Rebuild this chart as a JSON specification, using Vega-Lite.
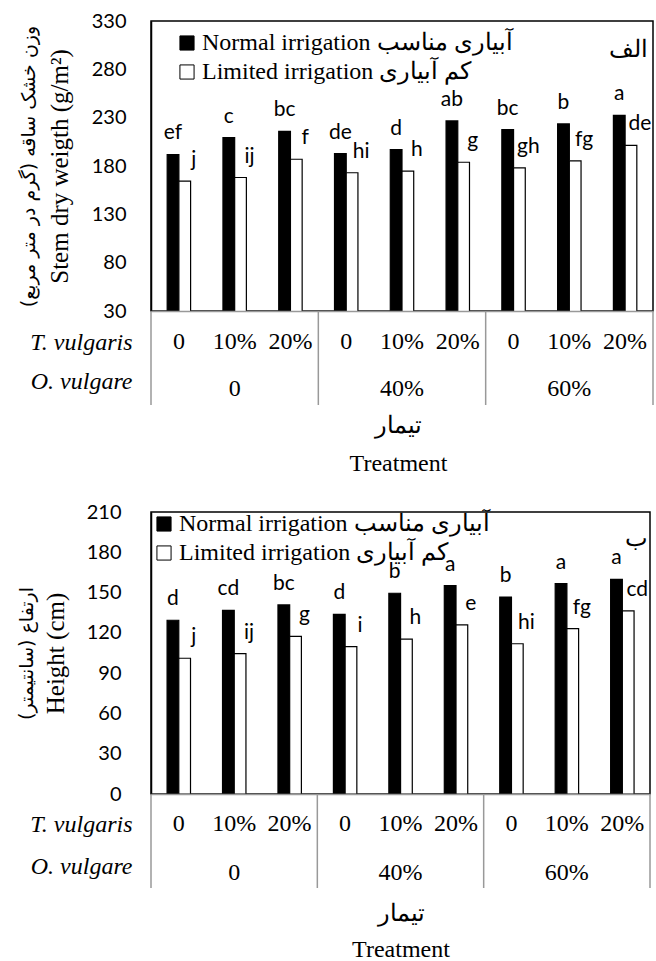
{
  "$schema": "https://vega.github.io/schema/vega-lite/v6.json",
  "padding": {"left": 16, "top": 10, "right": 0, "bottom": 0},
  "background": "white",
  "config": {"view": {"stroke": null}, "axis": {"grid": false}, "font": "Liberation Serif"},
  "datasets": {
    "stem": [
      {"trt": "1", "irr": "Normal irrigation آبیاری مناسب", "g": "N", "v": 191.9, "lab": "ef"},
      {"trt": "1", "irr": "Limited irrigation کم آبیاری", "g": "L", "v": 164.3, "lab": "j"},
      {"trt": "2", "irr": "Normal irrigation آبیاری مناسب", "g": "N", "v": 209.4, "lab": "c"},
      {"trt": "2", "irr": "Limited irrigation کم آبیاری", "g": "L", "v": 168.1, "lab": "ij"},
      {"trt": "3", "irr": "Normal irrigation آبیاری مناسب", "g": "N", "v": 215.9, "lab": "bc"},
      {"trt": "3", "irr": "Limited irrigation کم آبیاری", "g": "L", "v": 187.0, "lab": "f"},
      {"trt": "4", "irr": "Normal irrigation آبیاری مناسب", "g": "N", "v": 192.9, "lab": "de"},
      {"trt": "4", "irr": "Limited irrigation کم آبیاری", "g": "L", "v": 173.0, "lab": "hi"},
      {"trt": "5", "irr": "Normal irrigation آبیاری مناسب", "g": "N", "v": 197.0, "lab": "d"},
      {"trt": "5", "irr": "Limited irrigation کم آبیاری", "g": "L", "v": 174.6, "lab": "h"},
      {"trt": "6", "irr": "Normal irrigation آبیاری مناسب", "g": "N", "v": 226.6, "lab": "ab"},
      {"trt": "6", "irr": "Limited irrigation کم آبیاری", "g": "L", "v": 183.9, "lab": "g"},
      {"trt": "7", "irr": "Normal irrigation آبیاری مناسب", "g": "N", "v": 217.6, "lab": "bc"},
      {"trt": "7", "irr": "Limited irrigation کم آبیاری", "g": "L", "v": 178.1, "lab": "gh"},
      {"trt": "8", "irr": "Normal irrigation آبیاری مناسب", "g": "N", "v": 223.5, "lab": "b"},
      {"trt": "8", "irr": "Limited irrigation کم آبیاری", "g": "L", "v": 185.4, "lab": "fg"},
      {"trt": "9", "irr": "Normal irrigation آبیاری مناسب", "g": "N", "v": 232.4, "lab": "a"},
      {"trt": "9", "irr": "Limited irrigation کم آبیاری", "g": "L", "v": 201.4, "lab": "de"}
    ],
    "hgt": [
      {"trt": "1", "irr": "Normal irrigation آبیاری مناسب", "g": "N", "v": 129.4, "lab": "d"},
      {"trt": "1", "irr": "Limited irrigation کم آبیاری", "g": "L", "v": 101.1, "lab": "j"},
      {"trt": "2", "irr": "Normal irrigation آبیاری مناسب", "g": "N", "v": 136.8, "lab": "cd"},
      {"trt": "2", "irr": "Limited irrigation کم آبیاری", "g": "L", "v": 104.5, "lab": "ij"},
      {"trt": "3", "irr": "Normal irrigation آبیاری مناسب", "g": "N", "v": 140.8, "lab": "bc"},
      {"trt": "3", "irr": "Limited irrigation کم آبیاری", "g": "L", "v": 117.4, "lab": "g"},
      {"trt": "4", "irr": "Normal irrigation آبیاری مناسب", "g": "N", "v": 133.8, "lab": "d"},
      {"trt": "4", "irr": "Limited irrigation کم آبیاری", "g": "L", "v": 109.7, "lab": "i"},
      {"trt": "5", "irr": "Normal irrigation آبیاری مناسب", "g": "N", "v": 149.5, "lab": "b"},
      {"trt": "5", "irr": "Limited irrigation کم آبیاری", "g": "L", "v": 115.4, "lab": "h"},
      {"trt": "6", "irr": "Normal irrigation آبیاری مناسب", "g": "N", "v": 155.1, "lab": "a"},
      {"trt": "6", "irr": "Limited irrigation کم آبیاری", "g": "L", "v": 125.9, "lab": "e"},
      {"trt": "7", "irr": "Normal irrigation آبیاری مناسب", "g": "N", "v": 146.7, "lab": "b"},
      {"trt": "7", "irr": "Limited irrigation کم آبیاری", "g": "L", "v": 111.9, "lab": "hi"},
      {"trt": "8", "irr": "Normal irrigation آبیاری مناسب", "g": "N", "v": 156.6, "lab": "a"},
      {"trt": "8", "irr": "Limited irrigation کم آبیاری", "g": "L", "v": 123.1, "lab": "fg"},
      {"trt": "9", "irr": "Normal irrigation آبیاری مناسب", "g": "N", "v": 159.9, "lab": "a"},
      {"trt": "9", "irr": "Limited irrigation کم آبیاری", "g": "L", "v": 136.3, "lab": "cd"}
    ],
    "corner1": [{"trt": "9", "v": 300, "lab": "الف"}],
    "corner2": [{"trt": "9", "v": 190, "lab": "ب"}],
    "tbl": [
      {"trt": "1", "row": "T. vulgaris", "lab": "0"},
      {"trt": "2", "row": "T. vulgaris", "lab": "10%"},
      {"trt": "3", "row": "T. vulgaris", "lab": "20%"},
      {"trt": "4", "row": "T. vulgaris", "lab": "0"},
      {"trt": "5", "row": "T. vulgaris", "lab": "10%"},
      {"trt": "6", "row": "T. vulgaris", "lab": "20%"},
      {"trt": "7", "row": "T. vulgaris", "lab": "0"},
      {"trt": "8", "row": "T. vulgaris", "lab": "10%"},
      {"trt": "9", "row": "T. vulgaris", "lab": "20%"},
      {"trt": "2", "row": "O. vulgare", "lab": "0"},
      {"trt": "5", "row": "O. vulgare", "lab": "40%"},
      {"trt": "8", "row": "O. vulgare", "lab": "60%"}
    ],
    "divL": [{"trt": "1"}, {"trt": "4"}, {"trt": "7"}],
    "divR": [{"trt": "9"}]
  },
  "resolve": {"scale": {"color": "independent"}, "legend": {"color": "independent"}},
  "spacing": 26,
  "vconcat": [
    {
      "spacing": 0,
      "bounds": "flush",
      "resolve": {"scale": {"color": "independent"}, "legend": {"color": "independent"}},
      "vconcat": [
        {
          "width": 502,
          "height": 290,
          "view": {"stroke": "black", "strokeWidth": 1.5},
          "data": {"name": "stem"},
          "resolve": {"axis": {"y": "independent"}},
          "layer": [
            {
              "mark": {"type": "bar", "stroke": "black", "strokeWidth": 1.2, "clip": true},
              "encoding": {
                "x": {"field": "trt", "type": "nominal", "scale": {"type": "band", "domain": ["1","2","3","4","5","6","7","8","9"], "paddingInner": 0.58, "paddingOuter": 0.29}, "axis": {"labels": false, "ticks": false, "title": null, "domainColor": "#999999", "domainWidth": 1.5, "zindex": 1}},
                "xOffset": {"field": "irr", "type": "nominal", "scale": {"domain": ["Normal irrigation آبیاری مناسب", "Limited irrigation کم آبیاری"]}},
                "y": {"field": "v", "type": "quantitative", "scale": {"domain": [30, 330], "nice": false, "zero": false}, "axis": {"orient": "left", "values": [30, 80, 130, 180, 230, 280, 330], "ticks": false, "tickSize": 0, "labelPadding": 25, "labelFont": "Lato", "labelFontSize": 20, "labelColor": "black", "domainColor": "black", "domainWidth": 1.5, "title": "Stem dry weigth (g/m²)", "titleFont": "Liberation Serif", "titleFontSize": 25, "titleFontWeight": "normal", "titleColor": "black", "titlePadding": 19}},
                "color": {"field": "irr", "type": "nominal", "scale": {"domain": ["Normal irrigation آبیاری مناسب", "Limited irrigation کم آبیاری"], "range": ["black", "white"]}, "legend": {"orient": "none", "legendX": 24, "legendY": 10, "title": null, "symbolType": "square", "symbolSize": 200, "symbolStrokeColor": "black", "symbolStrokeWidth": 1, "labelFont": "Liberation Serif", "labelFontSize": 24, "labelColor": "black", "labelLimit": 500, "rowPadding": 5, "labelOffset": 3, "padding": 0}}
              }
            },
            {
              "transform": [{"filter": "datum.g == 'N'"}],
              "mark": {"type": "text", "font": "Lato", "fontSize": 21, "baseline": "alphabetic", "dy": -15, "color": "black"},
              "encoding": {
                "x": {"field": "trt", "type": "nominal"},
                "xOffset": {"field": "irr", "type": "nominal", "scale": {"domain": ["Normal irrigation آبیاری مناسب", "Limited irrigation کم آبیاری"]}},
                "y": {"field": "v", "type": "quantitative", "scale": {"domain": [30, 330], "nice": false, "zero": false}, "axis": {"orient": "left", "labels": false, "ticks": false, "domain": false, "title": "وزن خشک ساقه (گرم در متر مربع)", "titleFont": "DejaVu Sans", "titleFontSize": 19, "titleFontWeight": "normal", "titleColor": "black", "titlePadding": 113}},
                "text": {"field": "lab"}
              }
            },
            {
              "transform": [{"filter": "datum.g == 'L'"}],
              "mark": {"type": "text", "font": "Lato", "fontSize": 21, "baseline": "alphabetic", "dy": -15, "dx": 9, "color": "black"},
              "encoding": {
                "x": {"field": "trt", "type": "nominal"},
                "xOffset": {"field": "irr", "type": "nominal", "scale": {"domain": ["Normal irrigation آبیاری مناسب", "Limited irrigation کم آبیاری"]}},
                "y": {"field": "v", "type": "quantitative", "scale": {"domain": [30, 330], "nice": false, "zero": false}, "axis": null},
                "text": {"field": "lab"}
              }
            },
            {
              "data": {"name": "corner1"},
              "mark": {"type": "text", "font": "Liberation Serif", "fontSize": 24, "baseline": "middle", "dx": 3, "color": "black"},
              "encoding": {
                "x": {"field": "trt", "type": "nominal"},
                "y": {"field": "v", "type": "quantitative", "scale": {"domain": [30, 330], "nice": false, "zero": false}, "axis": null},
                "text": {"field": "lab"}
              }
            }
          ]
        },
        {
          "width": 502,
          "height": 94,
          "layer": [
            {
              "data": {"name": "tbl"},
              "transform": [{"filter": "datum.row == 'T. vulgaris'"}],
              "mark": {"type": "text", "font": "Liberation Serif", "fontSize": 24, "baseline": "middle", "color": "black"},
              "encoding": {
                "x": {"field": "trt", "type": "nominal", "scale": {"type": "band", "domain": ["1","2","3","4","5","6","7","8","9"], "paddingInner": 0, "paddingOuter": 0}, "axis": {"labels": false, "ticks": false, "domain": false, "title": ["تیمار", "Treatment"], "titleFont": "Liberation Serif", "titleFontSize": 24, "titleFontWeight": "normal", "titleLineHeight": 38, "titlePadding": 8, "titleColor": "black", "titleX": 247}},
                "y": {"field": "row", "type": "nominal", "scale": {"type": "point", "domain": ["T. vulgaris", "O. vulgare"], "range": [31, 70], "padding": 0}, "axis": {"ticks": false, "domain": false, "labelFont": "Liberation Serif", "labelFontStyle": "italic", "labelFontSize": 24, "labelColor": "black", "labelPadding": 19, "title": null}},
                "text": {"field": "lab"}
              }
            },
            {
              "data": {"name": "tbl"},
              "transform": [{"filter": "datum.row == 'O. vulgare'"}],
              "mark": {"type": "text", "font": "Liberation Serif", "fontSize": 24, "baseline": "middle", "dy": 8, "color": "black"},
              "encoding": {
                "x": {"field": "trt", "type": "nominal"},
                "y": {"field": "row", "type": "nominal"},
                "text": {"field": "lab"}
              }
            },
            {
              "data": {"name": "divL"},
              "mark": {"type": "rule", "color": "#999999", "strokeWidth": 1.5},
              "encoding": {"x": {"field": "trt", "type": "nominal", "bandPosition": 0}}
            },
            {
              "data": {"name": "divR"},
              "mark": {"type": "rule", "color": "#999999", "strokeWidth": 1.5},
              "encoding": {"x": {"field": "trt", "type": "nominal", "bandPosition": 1}}
            }
          ]
        }
      ]
    },
    {
      "spacing": 0,
      "bounds": "flush",
      "resolve": {"scale": {"color": "independent"}, "legend": {"color": "independent"}},
      "vconcat": [
        {
          "width": 499,
          "height": 282,
          "view": {"stroke": "black", "strokeWidth": 1.5},
          "data": {"name": "hgt"},
          "resolve": {"axis": {"y": "independent"}},
          "layer": [
            {
              "mark": {"type": "bar", "stroke": "black", "strokeWidth": 1.2, "clip": true},
              "encoding": {
                "x": {"field": "trt", "type": "nominal", "scale": {"type": "band", "domain": ["1","2","3","4","5","6","7","8","9"], "paddingInner": 0.58, "paddingOuter": 0.29}, "axis": {"labels": false, "ticks": false, "title": null, "domainColor": "#999999", "domainWidth": 1.5, "zindex": 1}},
                "xOffset": {"field": "irr", "type": "nominal", "scale": {"domain": ["Normal irrigation آبیاری مناسب", "Limited irrigation کم آبیاری"]}},
                "y": {"field": "v", "type": "quantitative", "scale": {"domain": [0, 210], "nice": false}, "axis": {"orient": "left", "values": [0, 30, 60, 90, 120, 150, 180, 210], "ticks": false, "tickSize": 0, "labelPadding": 30, "labelFont": "Lato", "labelFontSize": 20, "labelColor": "black", "domainColor": "black", "domainWidth": 1.5, "title": "Height (cm)", "titleFont": "Liberation Serif", "titleFontSize": 25, "titleFontWeight": "normal", "titleColor": "black", "titlePadding": 18}},
                "color": {"field": "irr", "type": "nominal", "scale": {"domain": ["Normal irrigation آبیاری مناسب", "Limited irrigation کم آبیاری"], "range": ["black", "white"]}, "legend": {"orient": "none", "legendX": 1, "legendY": 0, "title": null, "symbolType": "square", "symbolSize": 200, "symbolStrokeColor": "black", "symbolStrokeWidth": 1, "labelFont": "Liberation Serif", "labelFontSize": 24, "labelColor": "black", "labelLimit": 500, "rowPadding": 5, "labelOffset": 3, "padding": 0}}
              }
            },
            {
              "transform": [{"filter": "datum.g == 'N'"}],
              "mark": {"type": "text", "font": "Lato", "fontSize": 21, "baseline": "alphabetic", "dy": -15, "color": "black"},
              "encoding": {
                "x": {"field": "trt", "type": "nominal"},
                "xOffset": {"field": "irr", "type": "nominal", "scale": {"domain": ["Normal irrigation آبیاری مناسب", "Limited irrigation کم آبیاری"]}},
                "y": {"field": "v", "type": "quantitative", "scale": {"domain": [0, 210], "nice": false}, "axis": {"orient": "left", "labels": false, "ticks": false, "domain": false, "title": "ارتفاع (سانتیمتر)", "titleFont": "DejaVu Sans", "titleFontSize": 19, "titleFontWeight": "normal", "titleColor": "black", "titlePadding": 115}},
                "text": {"field": "lab"}
              }
            },
            {
              "transform": [{"filter": "datum.g == 'L'"}],
              "mark": {"type": "text", "font": "Lato", "fontSize": 21, "baseline": "alphabetic", "dy": -15, "dx": 9, "color": "black"},
              "encoding": {
                "x": {"field": "trt", "type": "nominal"},
                "xOffset": {"field": "irr", "type": "nominal", "scale": {"domain": ["Normal irrigation آبیاری مناسب", "Limited irrigation کم آبیاری"]}},
                "y": {"field": "v", "type": "quantitative", "scale": {"domain": [0, 210], "nice": false}, "axis": null},
                "text": {"field": "lab"}
              }
            },
            {
              "data": {"name": "corner2"},
              "mark": {"type": "text", "font": "Liberation Serif", "fontSize": 24, "baseline": "middle", "dx": 14, "color": "black"},
              "encoding": {
                "x": {"field": "trt", "type": "nominal"},
                "y": {"field": "v", "type": "quantitative", "scale": {"domain": [0, 210], "nice": false}, "axis": null},
                "text": {"field": "lab"}
              }
            }
          ]
        },
        {
          "width": 499,
          "height": 94,
          "layer": [
            {
              "data": {"name": "tbl"},
              "transform": [{"filter": "datum.row == 'T. vulgaris'"}],
              "mark": {"type": "text", "font": "Liberation Serif", "fontSize": 24, "baseline": "middle", "color": "black"},
              "encoding": {
                "x": {"field": "trt", "type": "nominal", "scale": {"type": "band", "domain": ["1","2","3","4","5","6","7","8","9"], "paddingInner": 0, "paddingOuter": 0}, "axis": {"labels": false, "ticks": false, "domain": false, "title": ["تیمار", "Treatment"], "titleFont": "Liberation Serif", "titleFontSize": 24, "titleFontWeight": "normal", "titleLineHeight": 36, "titlePadding": 13, "titleColor": "black"}},
                "y": {"field": "row", "type": "nominal", "scale": {"type": "point", "domain": ["T. vulgaris", "O. vulgare"], "range": [30, 72], "padding": 0}, "axis": {"ticks": false, "domain": false, "labelFont": "Liberation Serif", "labelFontStyle": "italic", "labelFontSize": 24, "labelColor": "black", "labelPadding": 19, "title": null}},
                "text": {"field": "lab"}
              }
            },
            {
              "data": {"name": "tbl"},
              "transform": [{"filter": "datum.row == 'O. vulgare'"}],
              "mark": {"type": "text", "font": "Liberation Serif", "fontSize": 24, "baseline": "middle", "dy": 7, "color": "black"},
              "encoding": {
                "x": {"field": "trt", "type": "nominal"},
                "y": {"field": "row", "type": "nominal"},
                "text": {"field": "lab"}
              }
            },
            {
              "data": {"name": "divL"},
              "mark": {"type": "rule", "color": "#999999", "strokeWidth": 1.5},
              "encoding": {"x": {"field": "trt", "type": "nominal", "bandPosition": 0}}
            },
            {
              "data": {"name": "divR"},
              "mark": {"type": "rule", "color": "#999999", "strokeWidth": 1.5},
              "encoding": {"x": {"field": "trt", "type": "nominal", "bandPosition": 1}}
            }
          ]
        }
      ]
    }
  ]
}
